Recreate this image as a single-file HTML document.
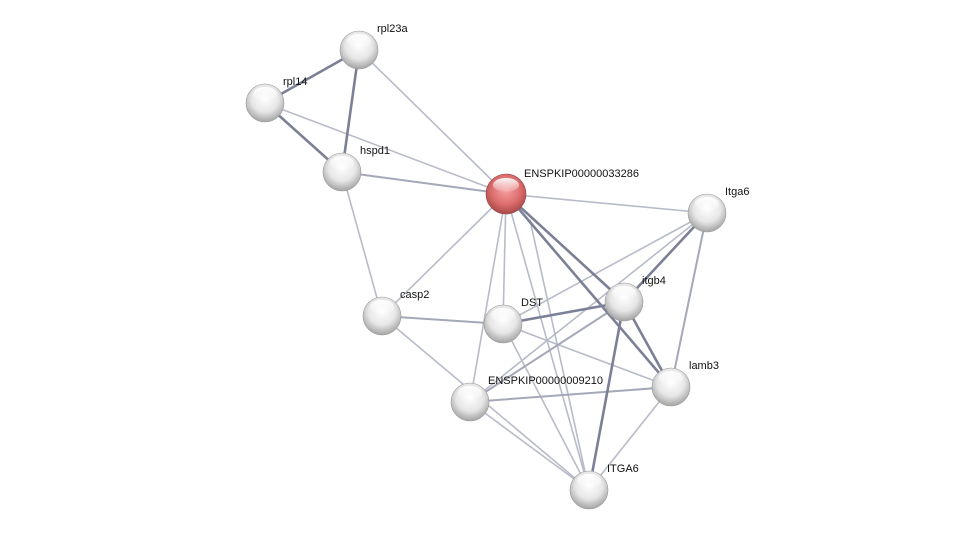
<!DOCTYPE html>
<html><head><style>
html,body{margin:0;padding:0;background:#fff;}
svg{display:block;}
text{font-family:"Liberation Sans",sans-serif;font-size:11px;fill:#111;}
</style></head><body>
<svg width="976" height="535" viewBox="0 0 976 535">
<defs>
<radialGradient id="g" cx="50%" cy="38%" r="60%">
<stop offset="0" stop-color="#ffffff"/><stop offset="0.6" stop-color="#e6e6e6"/><stop offset="1" stop-color="#a8a8a8"/>
</radialGradient>
<radialGradient id="r" cx="50%" cy="40%" r="60%">
<stop offset="0" stop-color="#f7a0a0"/><stop offset="0.6" stop-color="#dc6e6e"/><stop offset="1" stop-color="#a84848"/>
</radialGradient>
<linearGradient id="h" x1="0" y1="0" x2="0" y2="1">
<stop offset="0" stop-color="#fff" stop-opacity="0.95"/><stop offset="1" stop-color="#fff" stop-opacity="0.1"/>
</linearGradient>
</defs>
<g stroke-linecap="round">
<g stroke="#b8bcc8" stroke-width="1.6">
<line x1="359" y1="50" x2="506" y2="194"/>
<line x1="265" y1="103" x2="506" y2="194"/>
<line x1="342" y1="172" x2="382" y2="316"/>
<line x1="506" y1="194" x2="707" y2="213"/>
<line x1="506" y1="194" x2="382" y2="316"/>
<line x1="506" y1="194" x2="503" y2="324"/>
<line x1="506" y1="194" x2="470" y2="402"/>
<line x1="506" y1="194" x2="589" y2="490"/>
<line x1="707" y1="213" x2="503" y2="324"/>
<line x1="707" y1="213" x2="470" y2="402"/>
<line x1="382" y1="316" x2="589" y2="490"/>
<line x1="503" y1="324" x2="671" y2="387"/>
<line x1="503" y1="324" x2="589" y2="490"/>
<line x1="470" y1="402" x2="589" y2="490"/>
<line x1="671" y1="387" x2="589" y2="490"/>
<line x1="530" y1="220" x2="589" y2="490"/>
</g>
<g stroke="#a4a8b8" stroke-width="2">
<line x1="342" y1="172" x2="506" y2="194"/>
<line x1="707" y1="213" x2="671" y2="387"/>
<line x1="382" y1="316" x2="503" y2="324"/>
<line x1="470" y1="402" x2="671" y2="387"/>
<line x1="624" y1="302" x2="470" y2="402"/>
</g>
<g stroke="#7c8096" stroke-width="2.6">
<line x1="359" y1="50" x2="265" y2="103"/>
<line x1="359" y1="50" x2="342" y2="172"/>
<line x1="265" y1="103" x2="342" y2="172"/>
<line x1="506" y1="194" x2="624" y2="302"/>
<line x1="506" y1="194" x2="671" y2="387"/>
<line x1="707" y1="213" x2="624" y2="302"/>
<line x1="503" y1="324" x2="624" y2="302"/>
<line x1="624" y1="302" x2="671" y2="387"/>
<line x1="624" y1="302" x2="589" y2="490"/>
</g>
</g>
<g>
<g transform="translate(359,50)"><circle r="19" fill="url(#g)" stroke="#999" stroke-width="0.6"/><ellipse cy="-9" rx="12" ry="7" fill="url(#h)"/></g>
<g transform="translate(265,103)"><circle r="19" fill="url(#g)" stroke="#999" stroke-width="0.6"/><ellipse cy="-9" rx="12" ry="7" fill="url(#h)"/></g>
<g transform="translate(342,172)"><circle r="19" fill="url(#g)" stroke="#999" stroke-width="0.6"/><ellipse cy="-9" rx="12" ry="7" fill="url(#h)"/></g>
<g transform="translate(506,194)"><circle r="20" fill="url(#r)" stroke="#944" stroke-width="0.6"/><ellipse cy="-9" rx="13" ry="7" fill="url(#h)"/></g>
<g transform="translate(707,213)"><circle r="19" fill="url(#g)" stroke="#999" stroke-width="0.6"/><ellipse cy="-9" rx="12" ry="7" fill="url(#h)"/></g>
<g transform="translate(382,316)"><circle r="19" fill="url(#g)" stroke="#999" stroke-width="0.6"/><ellipse cy="-9" rx="12" ry="7" fill="url(#h)"/></g>
<g transform="translate(503,324)"><circle r="19" fill="url(#g)" stroke="#999" stroke-width="0.6"/><ellipse cy="-9" rx="12" ry="7" fill="url(#h)"/></g>
<g transform="translate(624,302)"><circle r="19" fill="url(#g)" stroke="#999" stroke-width="0.6"/><ellipse cy="-9" rx="12" ry="7" fill="url(#h)"/></g>
<g transform="translate(671,387)"><circle r="19" fill="url(#g)" stroke="#999" stroke-width="0.6"/><ellipse cy="-9" rx="12" ry="7" fill="url(#h)"/></g>
<g transform="translate(470,402)"><circle r="19" fill="url(#g)" stroke="#999" stroke-width="0.6"/><ellipse cy="-9" rx="12" ry="7" fill="url(#h)"/></g>
<g transform="translate(589,490)"><circle r="19" fill="url(#g)" stroke="#999" stroke-width="0.6"/><ellipse cy="-9" rx="12" ry="7" fill="url(#h)"/></g>
</g>
<g>
<text x="377" y="32">rpl23a</text>
<text x="283" y="85">rpl14</text>
<text x="360" y="154">hspd1</text>
<text x="524" y="177">ENSPKIP00000033286</text>
<text x="725" y="195">Itga6</text>
<text x="400" y="298">casp2</text>
<text x="521" y="306">DST</text>
<text x="642" y="284">itgb4</text>
<text x="689" y="369">lamb3</text>
<text x="488" y="384">ENSPKIP00000009210</text>
<text x="607" y="472">ITGA6</text>
</g>
</svg>
</body></html>
